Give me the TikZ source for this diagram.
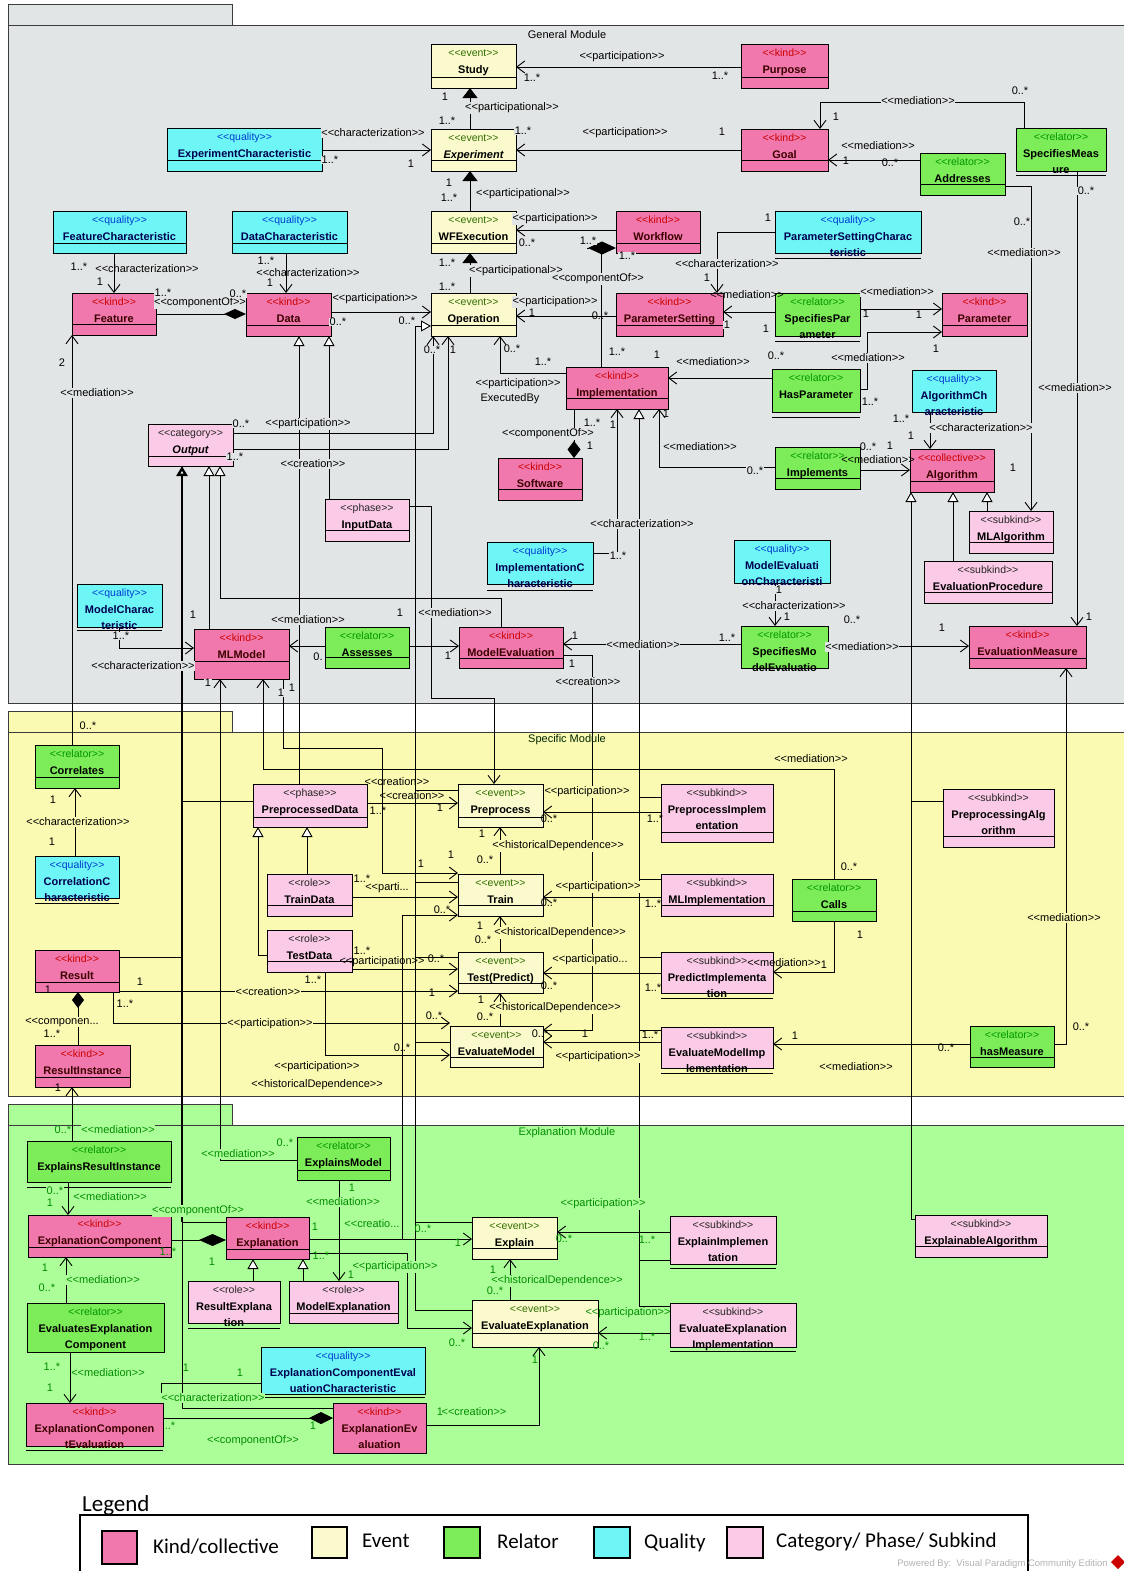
\documentclass[tikz,border=0pt]{standalone}
\usepackage{fontspec}
\setmainfont{Liberation Sans}
\newfontfamily\legendfont{Carlito}
\usetikzlibrary{arrows.meta}
\pgfdeclarelayer{bg}
\pgfdeclarelayer{links}
\pgfsetlayers{bg,links,main}
% module backgrounds
\definecolor{genbg}{RGB}{226,229,229}
\definecolor{specbg}{RGB}{250,250,178}
\definecolor{explbg}{RGB}{172,255,152}
% class fills
\definecolor{kindfill}{RGB}{240,120,172}
\definecolor{eventfill}{RGB}{250,250,204}
\definecolor{relfill}{RGB}{124,236,88}
\definecolor{qualfill}{RGB}{110,246,246}
\definecolor{subfill}{RGB}{250,202,230}
% stereotype / name colours
\definecolor{kindst}{RGB}{204,0,0}
\definecolor{eventst}{RGB}{50,110,0}
\definecolor{relst}{RGB}{0,150,0}
\definecolor{qualst}{RGB}{0,60,210}
\definecolor{qualname}{RGB}{0,0,80}
\definecolor{kindname}{RGB}{60,0,0}
\definecolor{explink}{RGB}{0,140,0}
\definecolor{framec}{RGB}{60,60,60}
\newcommand\sto{<\kern0pt<}
\newcommand\stc{>\kern0pt>}
\newcommand\ster[1]{\sto#1\stc}
% class box: name, style, x1, y1, x2, y2, stereotype, name line 1, name line 2
\newcommand\cls[9]{%
  \node[umlbox,#2,minimum width={(#5-#3)*1pt},minimum height={(#6-#4)*1pt},anchor=north west] (#1) at (#3,#4) {};
  \node[sttext,#2s] (#1-s) at ({(#3+#5)/2},{#4+12}) {\sto#7\stc};
  \node[nmtext,#2n] (#1-n) at ({(#3+#5)/2},{#4+29}) {#8};
  \ifx\relax#9\relax\else
    \node[nmtext,#2n] (#1-m) at ({(#3+#5)/2},{#4+45}) {#9};
  \fi}
% compartment line across a class box
\newcommand\dv[2]{\draw[line width=0.9pt] (#1.west |- 0,#2) -- (#1.east |- 0,#2);}
% connector labels
\newcounter{lbl}
\newcommand\lb[4][lg]{\stepcounter{lbl}\node[#1] (lb\the\value{lbl}) at (#2,#3) {#4};}
\begin{document}
\begin{tikzpicture}[x=1pt,y=-1pt,
  cline/.style={draw=black,line width=0.9pt},
  nav/.style={cline,-{Straight Barb[length=8pt,width=12pt]}},
  gen/.style={cline,-{Triangle[length=10pt,width=11pt,fill=white]}},
  part/.style={cline,-{Triangle[length=10pt,width=15pt]}},
  umlbox/.style={draw=black,line width=1pt,inner sep=0pt,outer sep=0pt,rectangle},
  sttext/.style={font=\fontsize{10.5}{12}\selectfont,inner sep=0pt,anchor=base},
  nmtext/.style={font=\fontsize{11}{13}\selectfont\bfseries,inner sep=0pt,anchor=base},
  kindc/.style={fill=kindfill},kindcs/.style={text=kindst},kindcn/.style={text=kindname},
  evc/.style={fill=eventfill},evcs/.style={text=eventst},evcn/.style={text=black},
  relc/.style={fill=relfill},relcs/.style={text=relst},relcn/.style={text=black},
  qualc/.style={fill=qualfill},qualcs/.style={text=qualst},qualcn/.style={text=qualname},
  subc/.style={fill=subfill},subcs/.style={text=black!85},subcn/.style={text=black},
  lbase/.style={font=\fontsize{11}{13}\selectfont,inner sep=0.5pt},
  lg/.style={lbase,fill=genbg},
  ls/.style={lbase,fill=specbg},
  le/.style={lbase,fill=explbg,text=explink},
  lg0/.style={lbase},
  le0/.style={lbase,text=explink},
  mtitle/.style={font=\fontsize{11}{13}\selectfont,inner sep=0pt},
  legtext/.style={anchor=base west,inner sep=0pt,font=\legendfont\fontsize{21}{25}\selectfont},
  legbox/.style={line width=1.5pt,draw=black}
]
\useasboundingbox (0,0) rectangle (1124,1571);

% ---------- module frames ----------
\begin{pgfonlayer}{bg}
\fill[white] (0,0) rectangle (1124,1571);
\draw[framec,line width=1pt,fill=genbg] (8,5) rectangle (232,26);
\draw[framec,line width=1pt,fill=genbg] (8,26) rectangle (1130,703);
\draw[framec,line width=1pt,fill=specbg] (8,711) rectangle (232,732);
\draw[framec,line width=1pt,fill=specbg] (8,732) rectangle (1130,1096);
\draw[framec,line width=1pt,fill=explbg] (8,1104) rectangle (232,1125);
\draw[framec,line width=1pt,fill=explbg] (8,1125) rectangle (1130,1464);
\end{pgfonlayer}
\node[mtitle] (gmtitle) at (567,35) {General Module};
\node[mtitle,text=black!85!green] (smtitle) at (567,740) {Specific Module};
\node[mtitle,text=explink] (emtitle) at (567,1133) {Explanation Module};

% ---------- classes: general module ----------
\cls{study}{evc}{431}{45}{516}{88}{event}{Study}{} \dv{study}{77}
\cls{purpose}{kindc}{741}{45}{828}{88}{kind}{Purpose}{} \dv{purpose}{77}
\cls{experiment}{evc}{431}{129}{516}{171}{event}{\itshape Experiment}{} \dv{experiment}{160}
\cls{expchar}{qualc}{167}{128}{322}{171}{quality}{ExperimentCharacteristic}{} \dv{expchar}{160}
\cls{goal}{kindc}{741}{129}{828}{171}{kind}{Goal}{} \dv{goal}{160}
\cls{addresses}{relc}{920}{153}{1005}{195}{relator}{Addresses}{} \dv{addresses}{184}
\cls{specmeas}{relc}{1016}{128}{1106}{171}{relator}{SpecifiesMeas}{ure} \dv{specmeas}{175}
\cls{featchar}{qualc}{53}{211}{186}{253}{quality}{FeatureCharacteristic}{} \dv{featchar}{243}
\cls{datachar}{qualc}{232}{211}{347}{253}{quality}{DataCharacteristic}{} \dv{datachar}{243}
\cls{wfexec}{evc}{431}{211}{516}{253}{event}{WFExecution}{} \dv{wfexec}{243}
\cls{workflow}{kindc}{616}{211}{700}{253}{kind}{Workflow}{} \dv{workflow}{243}
\cls{pschar}{qualc}{775}{211}{921}{253}{quality}{ParameterSettingCharac}{teristic} \dv{pschar}{258}
\cls{feature}{kindc}{72}{293}{156}{335}{kind}{Feature}{} \dv{feature}{324}
\cls{data}{kindc}{246}{293}{331}{336}{kind}{Data}{} \dv{data}{325}
\cls{operation}{evc}{431}{293}{516}{336}{event}{Operation}{} \dv{operation}{325}
\cls{psetting}{kindc}{616}{293}{723}{336}{kind}{ParameterSetting}{} \dv{psetting}{325}
\cls{specpar}{relc}{775}{293}{860}{336}{relator}{SpecifiesPar}{ameter} \dv{specpar}{341}
\cls{parameter}{kindc}{942}{293}{1027}{336}{kind}{Parameter}{} \dv{parameter}{325}
\cls{impl}{kindc}{566}{367}{668}{409}{kind}{Implementation}{} \dv{impl}{398}
\cls{haspar}{relc}{772}{369}{860}{412}{relator}{HasParameter}{} \dv{haspar}{417}
\cls{algchar}{qualc}{912}{370}{996}{412}{quality}{AlgorithmCh}{aracteristic}
\cls{output}{subc}{148}{424}{233}{466}{category}{\itshape Output}{} \dv{output}{456}
\cls{software}{kindc}{498}{458}{582}{500}{kind}{Software}{} \dv{software}{489}
\cls{implements}{relc}{775}{447}{860}{489}{relator}{Implements}{} \dv{implements}{478}
\cls{algorithm}{kindc}{910}{449}{994}{492}{collective}{Algorithm}{} \dv{algorithm}{481}
\cls{inputdata}{subc}{325}{499}{409}{541}{phase}{InputData}{} \dv{inputdata}{530}
\cls{mlalg}{subc}{969}{511}{1053}{553}{subkind}{MLAlgorithm}{} \dv{mlalg}{542}
\cls{implchar}{qualc}{487}{542}{593}{584}{quality}{ImplementationC}{haracteristic} \dv{implchar}{590}
\cls{mevalchar}{qualc}{734}{540}{830}{583}{quality}{ModelEvaluati}{onCharacteristi}
\cls{evalproc}{subc}{924}{561}{1052}{603}{subkind}{EvaluationProcedure}{} \dv{evalproc}{592}
\cls{modelchar}{qualc}{77}{584}{162}{627}{quality}{ModelCharac}{teristic} \dv{modelchar}{630}
\cls{mlmodel}{kindc}{194}{629}{289}{679}{kind}{MLModel}{} \dv{mlmodel}{661}
\cls{assesses}{relc}{325}{627}{409}{668}{relator}{Assesses}{} \dv{assesses}{657}
\cls{modeleval}{kindc}{459}{627}{563}{668}{kind}{ModelEvaluation}{} \dv{modeleval}{658}
\cls{specme}{relc}{741}{626}{828}{668}{relator}{SpecifiesMo}{delEvaluatio}
\cls{evalmeas}{kindc}{969}{626}{1086}{668}{kind}{EvaluationMeasure}{} \dv{evalmeas}{658}

% ---------- classes: specific module ----------
\cls{correlates}{relc}{35}{745}{119}{788}{relator}{Correlates}{} \dv{correlates}{777}
\cls{ppdata}{subc}{253}{784}{367}{827}{phase}{PreprocessedData}{} \dv{ppdata}{817}
\cls{preprocess}{evc}{458}{784}{543}{827}{event}{Preprocess}{} \dv{preprocess}{817}
\cls{ppimpl}{subc}{661}{784}{773}{842}{subkind}{PreprocessImplem}{entation} \dv{ppimpl}{832}
\cls{ppalg}{subc}{943}{789}{1054}{847}{subkind}{PreprocessingAlg}{orithm} \dv{ppalg}{836}
\cls{corrchar}{qualc}{35}{856}{119}{898}{quality}{CorrelationC}{haracteristic} \dv{corrchar}{903}
\cls{traindata}{subc}{267}{874}{352}{916}{role}{TrainData}{} \dv{traindata}{905}
\cls{train}{evc}{458}{874}{543}{916}{event}{Train}{} \dv{train}{905}
\cls{mlimpl}{subc}{661}{874}{773}{916}{subkind}{MLImplementation}{} \dv{mlimpl}{905}
\cls{calls}{relc}{792}{879}{876}{921}{relator}{Calls}{} \dv{calls}{911}
\cls{testdata}{subc}{267}{930}{352}{972}{role}{TestData}{} \dv{testdata}{961}
\cls{test}{evc}{458}{952}{543}{993}{event}{Test(Predict)}{} \dv{test}{983}
\cls{predimpl}{subc}{661}{952}{773}{993}{subkind}{PredictImplementa}{tion} \dv{predimpl}{998}
\cls{result}{kindc}{35}{950}{119}{992}{kind}{Result}{} \dv{result}{982}
\cls{evalmodel}{evc}{450}{1026}{543}{1067}{event}{EvaluateModel}{} \dv{evalmodel}{1057}
\cls{emimpl}{subc}{661}{1027}{773}{1068}{subkind}{EvaluateModelImp}{lementation} \dv{emimpl}{1073}
\cls{hasmeas}{relc}{970}{1026}{1054}{1067}{relator}{hasMeasure}{} \dv{hasmeas}{1057}
\cls{resinst}{kindc}{35}{1045}{130}{1087}{kind}{ResultInstance}{} \dv{resinst}{1077}

% ---------- classes: explanation module ----------
\cls{explres}{relc}{27}{1141}{171}{1182}{relator}{ExplainsResultInstance}{} \dv{explres}{1187}
\cls{explmodel}{relc}{297}{1137}{390}{1180}{relator}{ExplainsModel}{} \dv{explmodel}{1170}
\cls{explcomp}{kindc}{28}{1215}{171}{1257}{kind}{ExplanationComponent}{} \dv{explcomp}{1247}
\cls{explanation}{kindc}{226}{1217}{309}{1259}{kind}{Explanation}{} \dv{explanation}{1249}
\cls{explain}{evc}{472}{1217}{557}{1259}{event}{Explain}{} \dv{explain}{1248}
\cls{explimpl}{subc}{670}{1216}{776}{1264}{subkind}{ExplainImplemen}{tation} \dv{explimpl}{1268}
\cls{explalg}{subc}{915}{1215}{1047}{1257}{subkind}{ExplainableAlgorithm}{} \dv{explalg}{1246}
\cls{resexpl}{subc}{188}{1281}{280}{1323}{role}{ResultExplana}{tion} \dv{resexpl}{1328}
\cls{modexpl}{subc}{289}{1281}{398}{1323}{role}{ModelExplanation}{} \dv{modexpl}{1313}
\cls{evexpcomp}{relc}{27}{1303}{164}{1352}{relator}{EvaluatesExplanation}{Component}
\cls{ecechar}{qualc}{261}{1347}{425}{1394}{quality}{ExplanationComponentEval}{uationCharacteristic} \dv{ecechar}{1397}
\cls{ecompeval}{kindc}{26}{1403}{163}{1446}{kind}{ExplanationComponen}{tEvaluation} \dv{ecompeval}{1450}
\cls{expleval}{kindc}{333}{1403}{426}{1453}{kind}{ExplanationEv}{aluation}
\cls{evalexpl}{evc}{472}{1300}{598}{1347}{event}{EvaluateExplanation}{} \dv{evalexpl}{1333}
\cls{eeimpl}{subc}{670}{1303}{796}{1347}{subkind}{EvaluateExplanation}{Implementation} \dv{eeimpl}{1351}

% ---------- connectors ----------
\begin{pgfonlayer}{links}
% general module
\draw[nav] (purpose.west |- 0,67) -- (study.east |- 0,67);
\draw[part] (experiment.north -| 470,0) -- (study.south -| 470,0);
\draw[nav] (expchar.east |- 0,150) -- (experiment.west |- 0,150);
\draw[nav] (goal.west |- 0,150) -- (experiment.east |- 0,150);
\draw[nav] (specmeas.north -| 1024,0) -- (1024,102) -- (820,102) -- (goal.north -| 820,0);
\draw[nav] (addresses.west |- 0,160) -- (goal.east |- 0,160);
\draw[nav] (addresses.east |- 0,186) -- (1031,186) -- (mlalg.north -| 1031,0);
\draw[nav] (specmeas.south -| 1077,0) -- (evalmeas.north -| 1077,0);
\draw[nav] (workflow.west |- 0,230) -- (wfexec.east |- 0,230);
\draw[part] (wfexec.north -| 470,0) -- (experiment.south -| 470,0);
\draw[part] (operation.north -| 470,0) -- (wfexec.south -| 470,0);
\coordinate (wfdia) at (601,254);
\draw[cline,{Diamond[length=28pt,width=13pt]}-] (workflow.west |- 0,248) -- (587,248);
\draw[cline] (wfdia) -- (impl.north -| 601,0);
\draw[nav] (featchar.south -| 114,0) -- (feature.north -| 114,0);
\draw[nav] (datachar.south -| 286,0) -- (data.north -| 286,0);
\draw[cline,-{Diamond[length=22pt,width=10pt]}] (feature.east |- 0,314) -- (data.west |- 0,314);
\draw[nav] (data.east |- 0,312) -- (operation.west |- 0,312);
\draw[gen] (evalexpl.west |- 0,1310) -- (415,1310) -- (415,326) -- (operation.west |- 0,326);
\draw[cline] (preprocess.west |- 0,790) -- (415,790);
\draw[cline] (train.west |- 0,882) -- (415,882);
\draw[cline] (test.west |- 0,957) -- (415,957);
\draw[cline] (evalmodel.west |- 0,1042) -- (415,1042);
\draw[cline] (explain.west |- 0,1222) -- (415,1222);
\draw[nav] (output.east |- 0,433) -- (433,433) -- (operation.south -| 433,0);
\draw[nav] (output.east |- 0,449) -- (448,449) -- (operation.south -| 448,0);
\draw[nav] (impl.west |- 0,373) -- (500,373) -- (operation.south -| 500,0);
\draw[nav] (psetting.west |- 0,316) -- (operation.east |- 0,316);
\draw[nav] (pschar.west |- 0,232) -- (717,232) -- (psetting.north -| 717,0);
\draw[nav] (specpar.west |- 0,312) -- (psetting.east |- 0,312);
\draw[nav] (specpar.east |- 0,309) -- (parameter.west |- 0,309);
\draw[nav] (haspar.east |- 0,389) -- (867,389) -- (867,332) -- (parameter.west |- 0,332);
\draw[nav] (haspar.west |- 0,378) -- (impl.east |- 0,378);
\draw[cline,-{Diamond[length=17pt,width=13pt]}] (impl.south -| 574,0) -- (software.north -| 574,0);
\draw[nav] (implchar.east |- 0,553) -- (617,553) -- (impl.south -| 617,0);
\draw[gen] (eeimpl.west |- 0,1306) -- (639,1306) -- (impl.south -| 639,0);
\draw[cline] (ppimpl.west |- 0,797) -- (639,797);
\draw[cline] (mlimpl.west |- 0,879) -- (639,879);
\draw[cline] (predimpl.west |- 0,957) -- (639,957);
\draw[cline] (emimpl.west |- 0,1030) -- (639,1030);
\draw[cline] (explimpl.west |- 0,1260) -- (639,1260);
\draw[nav] (implements.west |- 0,467) -- (659,467) -- (impl.south -| 659,0);
\draw[nav] (implements.east |- 0,470) -- (algorithm.west |- 0,470);
\draw[nav] (algchar.south -| 930,0) -- (algorithm.north -| 930,0);
\draw[gen] (mlalg.north -| 987,0) -- (algorithm.south -| 987,0);
\draw[gen] (evalproc.north -| 953,0) -- (algorithm.south -| 953,0);
\draw[gen] (explalg.west |- 0,1219) -- (911,1219) -- (algorithm.south -| 911,0);
\draw[cline] (ppalg.west |- 0,801) -- (911,801);
\draw[nav] (mevalchar.south -| 775,0) -- (specme.north -| 775,0);
\draw[nav] (specme.east |- 0,646) -- (evalmeas.west |- 0,646);
\draw[nav] (specme.west |- 0,644) -- (modeleval.east |- 0,644);
\draw[nav] (assesses.east |- 0,646) -- (modeleval.west |- 0,646);
\draw[nav] (assesses.west |- 0,646) -- (mlmodel.east |- 0,646);
\draw[nav] (modelchar.south -| 119,0) -- (119,648) -- (mlmodel.west |- 0,648);
\draw[gen] (mlmodel.north -| 209,0) -- (output.south -| 209,0);
\draw[gen] (modeleval.north -| 501,0) -- (501,598) -- (220,598) -- (output.south -| 220,0);
\coordinate (trunk) at (182,1222);
\draw[gen,line width=2.4pt] (trunk) -- (output.south -| 182,0);
\draw[cline] (explanation.west |- 0,1222) -- (182,1222) -- (182,1408) -- (expleval.west |- 0,1408);
\draw[cline] (result.east |- 0,957) -- (182,957);
\draw[cline] (ppdata.west |- 0,801) -- (182,801);
\draw[gen] (inputdata.north -| 329,0) -- (data.south -| 329,0);
\draw[gen] (ppdata.north -| 299,0) -- (data.south -| 299,0);
\draw[nav] (correlates.north -| 72,0) -- (feature.south -| 72,0);
\draw[nav] (inputdata.east |- 0,506) -- (431,506) -- (431,698) -- (494,698) -- (preprocess.north -| 494,0);
\draw[nav] (calls.north -| 834,0) -- (834,769) -- (263,769) -- (mlmodel.south -| 263,0);
\draw[nav] (mlmodel.south -| 283,0) -- (283,748) -- (382,748) -- (382,873) -- (train.west |- 0,873);
\draw[nav] (explmodel.west |- 0,1160) -- (220,1160) -- (mlmodel.south -| 220,0);
% specific module
\draw[nav] (ppdata.east |- 0,803) -- (preprocess.west |- 0,803);
\draw[nav] (traindata.east |- 0,897) -- (train.west |- 0,897);
\draw[nav] (explanation.east |- 0,1239) -- (402,1239) -- (402,915) -- (train.west |- 0,915);
\draw[nav] (testdata.east |- 0,969) -- (test.west |- 0,969);
\draw[nav] (result.east |- 0,991) -- (test.west |- 0,991);
\draw[nav] (result.south -| 113,0) -- (113,1023) -- (evalmodel.west |- 0,1023);
\draw[nav] (testdata.south -| 325,0) -- (325,1055) -- (evalmodel.west |- 0,1055);
\draw[nav] (ppimpl.west |- 0,812) -- (preprocess.east |- 0,812);
\draw[nav] (mlimpl.west |- 0,897) -- (train.east |- 0,897);
\draw[nav] (predimpl.west |- 0,973) -- (test.east |- 0,973);
\draw[nav] (emimpl.west |- 0,1042) -- (evalmodel.east |- 0,1042);
\draw[nav] (train.north -| 500,0) -- (preprocess.south -| 500,0);
\draw[nav] (test.north -| 500,0) -- (train.south -| 500,0);
\draw[nav] (evalmodel.north -| 500,0) -- (test.south -| 500,0);
\draw[nav] (modeleval.east |- 0,655) -- (592,655) -- (592,1030) -- (evalmodel.east |- 0,1030);
\draw[nav] (calls.south -| 834,0) -- (834,972) -- (predimpl.east |- 0,972);
\draw[nav] (hasmeas.west |- 0,1044) -- (emimpl.east |- 0,1044);
\draw[nav] (hasmeas.east |- 0,1044) -- (1066,1044) -- (evalmeas.south -| 1066,0);
\draw[nav] (corrchar.north -| 75,0) -- (correlates.south -| 75,0);
\draw[cline,-{Diamond[length=16pt,width=12pt]}] (resinst.north -| 78,0) -- (result.south -| 78,0);
\draw[gen] (traindata.north -| 307,0) -- (ppdata.south -| 307,0);
\draw[gen] (testdata.west |- 0,955) -- (258,955) -- (ppdata.south -| 258,0);
% explanation module
\draw[nav] (explres.north -| 72,0) -- (resinst.south -| 72,0);
\draw[nav] (explres.south -| 68,0) -- (explcomp.north -| 68,0);
\draw[nav] (explmodel.south -| 339,0) -- (modexpl.north -| 339,0);
\draw[gen] (resexpl.north -| 253,0) -- (explanation.south -| 253,0);
\draw[gen] (modexpl.north -| 303,0) -- (explanation.south -| 303,0);
\draw[cline,-{Diamond[length=27pt,width=12pt]}] (explcomp.east |- 0,1240) -- (explanation.west |- 0,1240);
\draw[nav] (explanation.east |- 0,1239) -- (explain.west |- 0,1239);
\draw[nav] (explanation.east |- 0,1253) -- (407,1253) -- (407,1328) -- (evalexpl.west |- 0,1328);
\draw[nav] (explimpl.west |- 0,1232) -- (explain.east |- 0,1232);
\draw[nav] (eeimpl.west |- 0,1333) -- (evalexpl.east |- 0,1333);
\draw[nav] (evalexpl.north -| 510,0) -- (explain.south -| 510,0);
\draw[nav] (expleval.east |- 0,1425) -- (539,1425) -- (evalexpl.south -| 539,0);
\draw[nav] (evexpcomp.north -| 66,0) -- (explcomp.south -| 66,0);
\draw[nav] (evexpcomp.south -| 70,0) -- (ecompeval.north -| 70,0);
\draw[cline,-{Diamond[length=24pt,width=12pt]}] (ecompeval.east |- 0,1418) -- (expleval.west |- 0,1418);
\draw[cline] (ecechar.west |- 0,1383) -- (161,1383) -- (ecompeval.north -| 161,0);
\end{pgfonlayer}

% ---------- labels: general module ----------
\lb{622}{57}{\ster{participation}}
\lb{532}{78}{1..*}
\lb{720}{76}{1..*}
\lb{445}{97}{1}
\lb{512}{108}{\ster{participational}}
\lb{447}{121}{1..*}
\lb{373}{133}{\ster{characterization}}
\lb{330}{160}{1..*}
\lb{411}{164}{1}
\lb{523}{131}{1..*}
\lb{625}{133}{\ster{participation}}
\lb{722}{132}{1}
\lb{918}{101}{\ster{mediation}}
\lb{1020}{91}{0..*}
\lb{836}{117}{1}
\lb{878}{146}{\ster{mediation}}
\lb[lg0]{846}{161}{1}
\lb[lg0]{890}{163}{0..*}
\lb{1022}{222}{0..*}
\lb{1024}{253}{\ster{mediation}}
\lb{1086}{191}{0..*}
\lb{1075}{388}{\ster{mediation}}
\lb{1089}{617}{1}
\lb{449}{183}{1}
\lb{449}{198}{1..*}
\lb{523}{194}{\ster{participational}}
\lb{555}{219}{\ster{participation}}
\lb{527}{243}{0..*}
\lb{447}{263}{1..*}
\lb{516}{271}{\ster{participational}}
\lb{447}{287}{1..*}
\lb{588}{241}{1..*}
\lb{627}{256}{1..*}
\lb{598}{279}{\ster{componentOf}}
\lb[lg0]{79}{267}{1..*}
\lb[lg0]{147}{269}{\ster{characterization}}
\lb{100}{282}{1}
\lb[lg0]{266}{261}{1..*}
\lb[lg0]{308}{273}{\ster{characterization}}
\lb{270}{283}{1}
\lb{163}{293}{1..*}
\lb{200}{303}{\ster{componentOf}}
\lb{238}{294}{0..*}
\lb{375}{299}{\ster{participation}}
\lb{338}{322}{0..*}
\lb[lg0]{407}{321}{0..*}
\lb{555}{302}{\ster{participation}}
\lb[lg0]{532}{313}{1}
\lb[lg0]{600}{316}{0..*}
\lb{768}{218}{1}
\lb{727}{264}{\ster{characterization}}
\lb{707}{278}{1}
\lb[lg0]{747}{295}{\ster{mediation}}
\lb{727}{325}{1}
\lb{766}{329}{1}
\lb{897}{292}{\ster{mediation}}
\lb{866}{314}{1}
\lb{919}{315}{1}
\lb{868}{358}{\ster{mediation}}
\lb{936}{349}{1}
\lb{870}{402}{1..*}
\lb{713}{362}{\ster{mediation}}
\lb{776}{356}{0..*}
\lb{617}{352}{1..*}
\lb{657}{355}{1}
\lb{432}{350}{0..*}
\lb{453}{350}{1}
\lb{512}{349}{0..*}
\lb{543}{362}{1..*}
\lb{518}{384}{\ster{participation}}
\lb{510}{399}{ExecutedBy}
\lb{592}{423}{1..*}
\lb{548}{434}{\ster{componentOf}}
\lb{590}{446}{1}
\lb[lg0]{613}{425}{1}
\lb{642}{524}{\ster{characterization}}
\lb{618}{556}{1..*}
\lb{700}{447}{\ster{mediation}}
\lb{755}{471}{0..*}
\lb[lg0]{666}{414}{1}
\lb[lg0]{878}{460}{\ster{mediation}}
\lb[lg0]{868}{447}{0..*}
\lb[lg0]{890}{446}{1}
\lb{901}{419}{1..*}
\lb{911}{436}{1}
\lb{981}{428}{\ster{characterization}}
\lb{1013}{468}{1}
\lb{241}{424}{0..*}
\lb{308}{424}{\ster{participation}}
\lb{235}{457}{1..*}
\lb{313}{464}{\ster{creation}}
\lb{62}{363}{2}
\lb{97}{393}{\ster{mediation}}
\lb{193}{615}{1}
\lb{121}{636}{1..*}
\lb{143}{666}{\ster{characterization}}
\lb{308}{620}{\ster{mediation}}
\lb[lg0]{318}{657}{0.}
\lb{400}{613}{1}
\lb{455}{613}{\ster{mediation}}
\lb[lg0]{448}{656}{1}
\lb[lg0]{575}{636}{1}
\lb{572}{664}{1}
\lb{588}{682}{\ster{creation}}
\lb{643}{645}{\ster{mediation}}
\lb[lg0]{727}{638}{1..*}
\lb{779}{590}{1}
\lb{794}{606}{\ster{characterization}}
\lb{787}{617}{1}
\lb{852}{620}{0..*}
\lb{862}{647}{\ster{mediation}}
\lb{942}{628}{1}
\lb{208}{683}{1}
\lb{281}{693}{1}
\lb{292}{688}{1}

% ---------- labels: specific module ----------
\lb[ls]{88}{726}{0..*}
\lb[ls]{53}{800}{1}
\lb[ls]{78}{822}{\ster{characterization}}
\lb[ls]{52}{842}{1}
\lb[lg0]{397}{782}{\ster{creation}}
\lb[lg0]{412}{796}{\ster{creation}}
\lb[lg0]{378}{811}{1..*}
\lb[lg0]{440}{808}{1}
\lb[ls]{587}{792}{\ster{participation}}
\lb[lg0]{549}{819}{0..*}
\lb[lg0]{655}{819}{1..*}
\lb[ls]{482}{834}{1}
\lb[ls]{558}{846}{\ster{historicalDependence}}
\lb[ls]{485}{860}{0..*}
\lb[ls]{451}{855}{1}
\lb[ls]{421}{864}{1}
\lb[lg0]{362}{879}{1..*}
\lb[ls]{387}{888}{\sto parti...}
\lb[ls]{598}{887}{\ster{participation}}
\lb[lg0]{549}{903}{0..*}
\lb[lg0]{653}{904}{1..*}
\lb[lg0]{442}{910}{0..*}
\lb[ls]{480}{926}{1}
\lb[ls]{560}{933}{\ster{historicalDependence}}
\lb[ls]{483}{940}{0..*}
\lb[ls]{590}{960}{\sto participatio...}
\lb[lg0]{549}{986}{0..*}
\lb[lg0]{653}{988}{1..*}
\lb[lg0]{362}{951}{1..*}
\lb[lg0]{382}{962}{\ster{participation}}
\lb[lg0]{436}{959}{0..*}
\lb[lg0]{432}{993}{1}
\lb[ls]{140}{982}{1}
\lb[ls]{268}{992}{\ster{creation}}
\lb[lg0]{48}{990}{1}
\lb[ls]{125}{1004}{1..*}
\lb[ls]{270}{1024}{\ster{participation}}
\lb[lg0]{434}{1016}{0..*}
\lb[ls]{313}{980}{1..*}
\lb[lg0]{402}{1048}{0..*}
\lb[ls]{317}{1067}{\ster{participation}}
\lb[ls]{317}{1085}{\ster{historicalDependence}}
\lb[ls]{481}{1000}{1}
\lb[ls]{555}{1008}{\ster{historicalDependence}}
\lb[ls]{485}{1017}{0..*}
\lb[lg0]{540}{1034}{0..*}
\lb[lg0]{585}{1034}{1}
\lb[lg0]{650}{1035}{1..*}
\lb[ls]{598}{1057}{\ster{participation}}
\lb[ls]{62}{1022}{\sto componen...}
\lb[ls]{52}{1034}{1..*}
\lb[ls]{811}{759}{\ster{mediation}}
\lb[ls]{849}{867}{0..*}
\lb[ls]{860}{935}{1}
\lb[lg0]{784}{963}{\ster{mediation}}
\lb[lg0]{824}{965}{1}
\lb[lg0]{795}{1036}{1}
\lb[lg0]{946}{1048}{0..*}
\lb[ls]{856}{1067}{\ster{mediation}}
\lb[ls]{1081}{1027}{0..*}
\lb[ls]{1064}{918}{\ster{mediation}}
\lb[lg0]{58}{1088}{1}

% ---------- labels: explanation module ----------
\lb[le]{63}{1130}{0..*}
\lb[le]{118}{1130}{\ster{mediation}}
\lb[le]{238}{1154}{\ster{mediation}}
\lb[le0]{285}{1143}{0..*}
\lb[le]{55}{1191}{0..*}
\lb[le]{50}{1203}{1}
\lb[le]{110}{1197}{\ster{mediation}}
\lb[le]{352}{1188}{1}
\lb[le]{343}{1202}{\ster{mediation}}
\lb[le]{198}{1211}{\ster{componentOf}}
\lb[le]{315}{1227}{1}
\lb[le]{372}{1224}{\sto creatio...}
\lb[le0]{423}{1229}{0..*}
\lb[le0]{458}{1243}{1}
\lb[le0]{168}{1252}{1..*}
\lb[le]{212}{1262}{1}
\lb[le0]{321}{1256}{1..*}
\lb[le]{395}{1267}{\ster{participation}}
\lb[le]{351}{1275}{1}
\lb[le]{603}{1204}{\ster{participation}}
\lb[le0]{564}{1239}{0..*}
\lb[le0]{647}{1240}{1..*}
\lb[le]{493}{1270}{1}
\lb[le]{557}{1281}{\ster{historicalDependence}}
\lb[le]{495}{1291}{0..*}
\lb[le0]{628}{1313}{\ster{participation}}
\lb[le0]{601}{1346}{0..*}
\lb[le0]{647}{1337}{1..*}
\lb[le]{457}{1343}{0..*}
\lb[le0]{535}{1360}{1}
\lb[le]{474}{1412}{\ster{creation}}
\lb[le0]{440}{1412}{1}
\lb[le]{45}{1268}{1}
\lb[le]{103}{1280}{\ster{mediation}}
\lb[le]{47}{1288}{0..*}
\lb[le]{52}{1367}{1..*}
\lb[le]{108}{1373}{\ster{mediation}}
\lb[le]{50}{1388}{1}
\lb[le0]{186}{1368}{1}
\lb[le]{240}{1373}{1}
\lb[le]{213}{1398}{\ster{characterization}}
\lb[le0]{170}{1426}{..*}
\lb[le0]{313}{1426}{1}
\lb[le]{253}{1441}{\ster{componentOf}}

% ---------- legend ----------
\node[anchor=base west,inner sep=0pt,font=\legendfont\fontsize{23}{27}\selectfont] (legtitle) at (82,1511) {Legend};
\draw[legbox] (80,1515) rectangle (1028,1590);
\draw[legbox,fill=kindfill] (102,1531) rectangle (137,1564);
\node[legtext] (legkind) at (153,1553) {Kind/collective};
\draw[legbox,fill=eventfill] (312,1527) rectangle (347,1558);
\node[legtext] (legevent) at (362,1547) {Event};
\draw[legbox,fill=relfill] (444,1527) rectangle (480,1558);
\node[legtext] (legrel) at (497,1548) {Relator};
\draw[legbox,fill=qualfill] (594,1527) rectangle (630,1558);
\node[legtext] (legqual) at (644,1548) {Quality};
\draw[legbox,fill=subfill] (727,1527) rectangle (763,1558);
\node[legtext] (legsub) at (776,1547) {Category/ Phase/ Subkind};
\node[anchor=base east,inner sep=0pt,font=\fontsize{9.5}{11}\selectfont,text=black!30] (powered) at (1108,1566) {Powered By:\ \ Visual Paradigm Community Edition};
\fill[red!80!black] (1118,1555) -- (1125,1562) -- (1118,1569) -- (1111,1562) -- cycle;
\end{tikzpicture}
\end{document}
